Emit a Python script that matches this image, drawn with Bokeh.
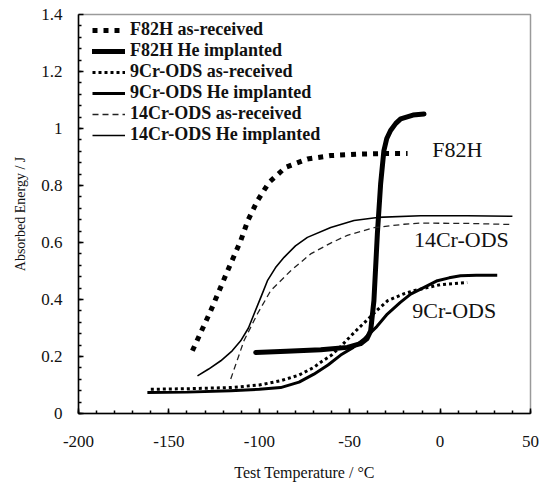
from bokeh.plotting import figure
from bokeh.models import Legend, LegendItem, FixedTicker, CustomJSTickFormatter, Range1d, ColumnDataSource
from bokeh.core.properties import value
from bokeh.embed import file_html
from bokeh.resources import INLINE

# ---- data ----
f82h_ar_t = [-137, -126.9, -117.6, -110.3, -106.2, -101.0, -94.6, -85.4, -73.4, -60.5, -45, -30, -18]
f82h_ar_e = [0.220, 0.360, 0.500, 0.606, 0.679, 0.747, 0.811, 0.864, 0.893, 0.905, 0.910, 0.912, 0.912]

f82h_he_t = [-102, -85, -66, -51.3, -44, -40.5, -38.4, -36.6, -34.7, -32.9, -31.1, -29.5, -27.4, -24.5, -21.8, -15, -8.9]
f82h_he_e = [0.214, 0.218, 0.224, 0.232, 0.245, 0.262, 0.29, 0.396, 0.63, 0.805, 0.922, 0.965, 0.993, 1.018, 1.034, 1.047, 1.051]

cr9_ar_t = [-160, -140, -115.8, -100, -88.2, -78, -69.8, -66, -60, -55, -50, -45, -40, -35, -29, -20, -14.5, 0, 15]
cr9_ar_e = [0.085, 0.087, 0.091, 0.100, 0.115, 0.135, 0.162, 0.180, 0.205, 0.235, 0.268, 0.300, 0.330, 0.362, 0.396, 0.420, 0.431, 0.452, 0.460]

cr9_he_t = [-161.9, -140, -115.8, -100, -88.2, -78, -69.8, -62, -55, -48, -42, -35, -29.2, -22, -16.3, -8, -1.5, 5, 11.3, 20, 31.6]
cr9_he_e = [0.074, 0.075, 0.080, 0.085, 0.091, 0.110, 0.138, 0.170, 0.205, 0.232, 0.262, 0.305, 0.349, 0.390, 0.419, 0.445, 0.466, 0.476, 0.483, 0.485, 0.485]

cr14_ar_t = [-115.8, -108.5, -101.1, -93.7, -82.6, -71.6, -60.5, -51.3, -36.6, -20, -10.8, 15, 40]
cr14_ar_e = [0.121, 0.255, 0.349, 0.431, 0.501, 0.560, 0.598, 0.625, 0.652, 0.664, 0.668, 0.667, 0.663]

cr14_he_t = [-134.2, -128, -121.3, -115, -110.3, -106, -102.9, -99, -95.5, -91, -86.3, -80, -73.4, -60.5, -47.6, -34.7, -10.8, 15, 40]
cr14_he_e = [0.132, 0.156, 0.185, 0.220, 0.255, 0.300, 0.349, 0.410, 0.466, 0.512, 0.548, 0.588, 0.618, 0.653, 0.677, 0.688, 0.694, 0.694, 0.692]

legend_labels = ["F82H as-received", "F82H He implanted", "9Cr-ODS as-received",
                 "9Cr-ODS He implanted", "14Cr-ODS as-received", "14Cr-ODS He implanted"]

note_text = ["F82H", "14Cr-ODS", "9Cr-ODS"]
note_t = [-4.3, -14.5, -15.4]
note_e = [0.926, 0.61, 0.361]

x_ticks = [-200, -150, -100, -50, 0, 50]
y_ticks = [0, 0.2, 0.4, 0.6, 0.8, 1.0, 1.2, 1.4]

FONT = "Liberation Serif"

p = figure(frame_width=452, frame_height=399, output_backend="svg", toolbar_location=None,
           x_range=Range1d(-200, 50), y_range=Range1d(0, 1.4),
           min_border_left=78, min_border_right=13, min_border_top=14, min_border_bottom=70,
           background_fill_color="white", border_fill_color="white")
p.grid.visible = False
p.outline_line_color = "#9a9a9a"
p.outline_line_width = 1.5

for ax in (p.xaxis[0], p.yaxis[0]):
    ax.axis_line_color = "black"
    ax.axis_line_width = 1.5
    ax.major_tick_in = 5
    ax.major_tick_out = 0
    ax.minor_tick_in = 3
    ax.minor_tick_out = 0
    ax.major_tick_line_color = "black"
    ax.minor_tick_line_color = "black"
    ax.major_tick_line_width = 1.5
    ax.minor_tick_line_width = 1.5
    ax.major_label_text_font = FONT
    ax.major_label_text_font_size = "17px"
    ax.major_label_text_color = "#111111"
    ax.axis_label_text_font = FONT
    ax.axis_label_text_font_style = "normal"
    ax.axis_label_text_color = "#111111"

p.xaxis.ticker = FixedTicker(ticks=x_ticks, minor_ticks=list(range(-200, 51, 10)))
p.yaxis.ticker = FixedTicker(ticks=y_ticks, minor_ticks=[i * 0.04 for i in range(36)])
p.xaxis.formatter = CustomJSTickFormatter(code="return String(Math.round(tick));")
p.yaxis.formatter = CustomJSTickFormatter(code="return String(Math.round(tick*10)/10);")
p.xaxis.major_label_standoff = 22
p.yaxis.major_label_standoff = 16
p.xaxis.axis_label = "Test Temperature / °C"
p.yaxis.axis_label = "Absorbed Energy / J"
p.xaxis.axis_label_text_font_size = "16px"
p.yaxis.axis_label_text_font_size = "14px"
p.xaxis.axis_label_standoff = 14
p.yaxis.axis_label_standoff = 10

r1 = p.line(f82h_ar_t, f82h_ar_e, line_color="black", line_width=5, line_dash="5 6", line_cap="butt")
r2 = p.line(f82h_he_t, f82h_he_e, line_color="black", line_width=5, line_join="round", line_cap="round")
r3 = p.line(cr9_ar_t, cr9_ar_e, line_color="black", line_width=3, line_dash="3 3", line_cap="butt")
r4 = p.line(cr9_he_t, cr9_he_e, line_color="black", line_width=3, line_join="round")
r5 = p.line(cr14_ar_t, cr14_ar_e, line_color="#222222", line_width=1.3, line_dash="6 4")
r6 = p.line(cr14_he_t, cr14_he_e, line_color="black", line_width=1.6)

src = ColumnDataSource(dict(x=note_t, y=note_e, t=note_text))
p.text(x="x", y="y", text="t", source=src, text_font=value(FONT), text_font_size="22px",
       text_align="left", text_baseline="middle", text_color="#111111")

legend = Legend(items=[LegendItem(label=l, renderers=[r]) for l, r in
                       zip(legend_labels, [r1, r2, r3, r4, r5, r6])],
                location=(14, 267.7), padding=0, margin=0, spacing=0,
                glyph_width=33, glyph_height=20, label_height=20, label_standoff=5,
                label_text_font=FONT, label_text_font_size="18px", label_text_font_style="bold",
                label_text_color="#111111", background_fill_alpha=0, border_line_alpha=0)
p.add_layout(legend, "center")

open("out.html", "w").write(file_html(p, INLINE))
